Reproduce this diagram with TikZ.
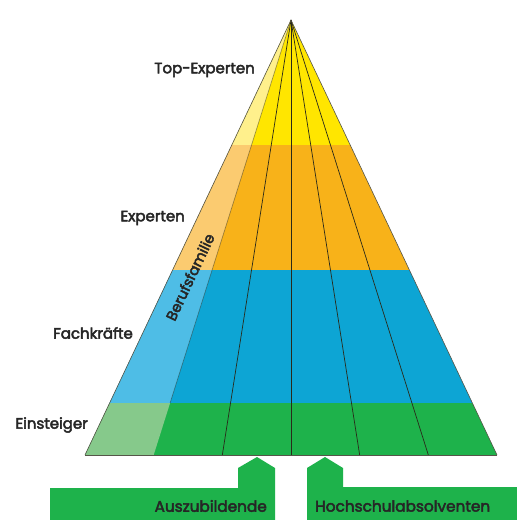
\documentclass[tikz,border=0pt]{standalone}
\usepackage{fontspec}
\setmainfont{Poppins}[FakeBold=3]
\definecolor{cYel}{HTML}{FFE600}
\definecolor{cYelL}{HTML}{FFF08C}
\definecolor{cOra}{HTML}{F8B219}
\definecolor{cOraL}{HTML}{FBCB70}
\definecolor{cBlu}{HTML}{0DA5D4}
\definecolor{cBluL}{HTML}{4EBDE6}
\definecolor{cGre}{HTML}{1EB24B}
\definecolor{cGreL}{HTML}{86C98B}
\definecolor{cTxt}{HTML}{262626}
\definecolor{cLine}{HTML}{2A2A1A}
\begin{document}
\begin{tikzpicture}[x=1pt,y=-1pt,
  radial/.style={draw=cLine,line width=0.7pt},
  edge/.style={draw=cLine!80,line width=0.6pt},
  lvl/.style={text=cTxt,font=\fontsize{15}{17}\selectfont,inner sep=0pt,anchor=east},
  entry/.style={fill=cGre},
  entrylabel/.style={text=cTxt,font=\fontsize{15.3}{17}\selectfont,inner sep=0pt}]
\useasboundingbox (0,0) rectangle (517,520);
\fill[white] (0,0) rectangle (517,520);
\coordinate (A) at (291,20);
\coordinate (BL) at (85,455);
\coordinate (BR) at (497,455);
\coordinate (S1) at (153.67,455);
\coordinate (S1g) at (170.1,403);
\coordinate (S2) at (222.33,455);
\coordinate (S3) at (291,455);
\coordinate (S4) at (359.67,455);
\coordinate (S5) at (428.33,455);
% bands
\begin{scope}
  \clip (A)--(BL)--(BR)--cycle;
  \fill[cYel] (0,0) rectangle (517,145);
  \fill[cOra] (0,145) rectangle (517,270);
  \fill[cBlu] (0,270) rectangle (517,403);
  \fill[cGre] (0,403) rectangle (517,460);
  \clip (A)--(BL)--(S1)--cycle;
  \fill[cYelL] (0,0) rectangle (517,145);
  \fill[cOraL] (0,145) rectangle (517,270);
  \fill[cBluL] (0,270) rectangle (517,403);
  \fill[cGreL] (0,403) rectangle (517,460);
\end{scope}
% radial lines
\draw[radial,opacity=0.45] (A) -- (S1g);
\draw[radial] (A) -- (S2);
\draw[radial] (A) -- (S3);
\draw[radial] (A) -- (S4);
\draw[radial] (A) -- (S5);
\draw[edge] (BL) -- (A) -- (BR);
\draw[edge] (BL) -- (BR);
% level labels
\node[lvl] (top) at (255,70) {Top-Experten};
\node[lvl] (exp) at (185,218) {Experten};
\node[lvl] (fach) at (133,333) {Fachkräfte};
\node[lvl] (ein) at (88,425) {Einsteiger};
\node[text=cTxt,font=\fontsize{14.5}{16}\selectfont,inner sep=0pt,rotate=64.7] (beruf) at (190,277) {Berufsfamilie};
% entry arrows
\fill[entry] (50,521)--(50,488)--(238,488)--(238,468)--(257,457)--(275,468)--(275,521)--cycle;
\fill[entry] (307,521)--(307,468)--(325,457)--(343,468)--(343,487)--(518,487)--(518,521)--cycle;
\node[entrylabel,anchor=east] (azubi) at (267,506) {Auszubildende};
\node[entrylabel,anchor=west] (hoch) at (315,506) {Hochschulabsolventen};
\end{tikzpicture}
\end{document}
